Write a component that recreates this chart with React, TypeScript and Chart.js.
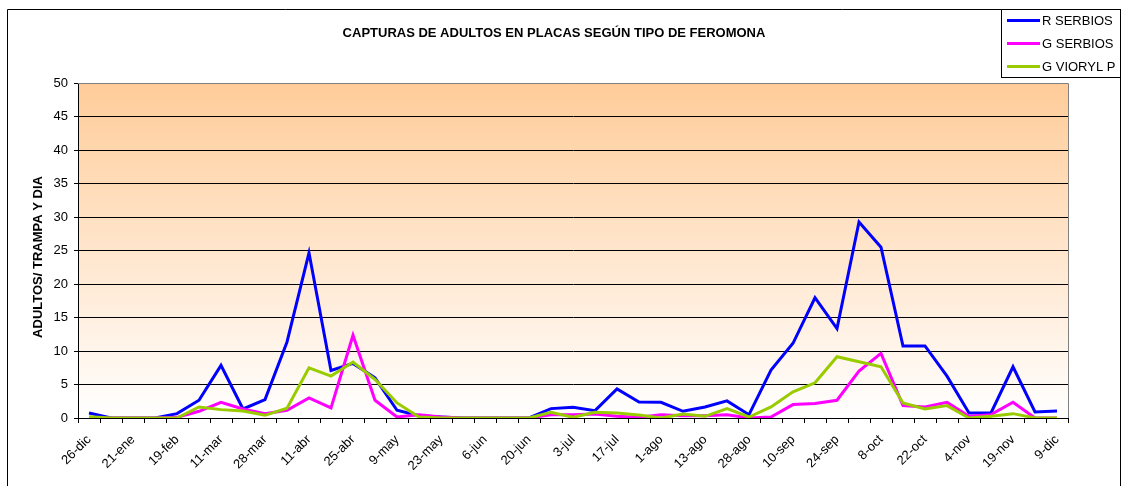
import React, { useEffect, useRef } from 'react';
import { Chart, registerables } from 'chart.js';

Chart.register(...registerables);

const FONT = '"Liberation Sans", Arial, sans-serif';

const chartTitle = 'CAPTURAS DE ADULTOS EN PLACAS SEGÚN TIPO DE FEROMONA';
const yAxisTitle = 'ADULTOS/ TRAMPA Y DIA';

// Date labels shown on every other category
const dateLabels = [
  '26-dic', '21-ene', '19-feb', '11-mar', '28-mar', '11-abr', '25-abr', '9-may',
  '23-may', '6-jun', '20-jun', '3-jul', '17-jul', '1-ago', '13-ago', '28-ago',
  '10-sep', '24-sep', '8-oct', '22-oct', '4-nov', '19-nov', '9-dic',
];

const rSerbios = [
  0.75, 0, 0, 0, 0.65, 2.65, 7.85, 1.35, 2.75, 11.35, 24.65, 7.1, 8.15, 6.0, 1.15,
  0.35, 0.15, 0, 0, 0, 0, 1.4, 1.6, 1.1, 4.35, 2.4, 2.35, 1.0, 1.65, 2.55,
  0.5, 7.15, 11.15, 17.95, 13.35, 29.25, 25.5, 10.75, 10.75, 6.25, 0.75, 0.75, 7.65, 0.9, 1.05,
];

const gSerbios = [
  0, 0, 0, 0, 0.1, 1.0, 2.35, 1.35, 0.65, 1.15, 3.0, 1.5, 12.35, 2.65, 0.15,
  0.5, 0.15, 0, 0, 0, 0, 0.5, 0.5, 0.6, 0.25, 0.1, 0.5, 0.35, 0.35, 0.5,
  0, 0.15, 2.0, 2.15, 2.65, 7.0, 9.65, 1.85, 1.65, 2.35, 0.25, 0.5, 2.35, 0, 0,
];

const gVioryl = [
  0.2, 0, 0, 0, 0, 1.65, 1.25, 1.05, 0.4, 1.45, 7.5, 6.25, 8.35, 5.75, 2.25,
  0.15, 0, 0, 0, 0, 0, 0.85, 0.1, 0.85, 0.75, 0.45, 0, 0.6, 0.25, 1.4,
  0.15, 1.65, 3.9, 5.25, 9.15, 8.4, 7.65, 2.25, 1.35, 1.85, 0, 0.25, 0.65, 0, 0,
];

const seriesNames = ['R SERBIOS', 'G SERBIOS', 'G VIORYL P'];
const seriesColors = ['#0000FF', '#FF00FF', '#99CC00'];
const seriesValues = [rSerbios, gSerbios, gVioryl];

const yMin = 0;
const yMax = 50;
const yStep = 5;

const categories = Array.from({ length: rSerbios.length }, (_, i) =>
  i % 2 === 0 ? dateLabels[i / 2] ?? '' : ''
);

const decorPlugin = {
  id: 'decor',
  beforeDraw(chart: any) {
    const { ctx, chartArea: a } = chart;
    ctx.save();
    ctx.fillStyle = '#ffffff';
    ctx.fillRect(0, 0, chart.width, chart.height);
    const g = ctx.createLinearGradient(0, a.top, 0, a.bottom);
    g.addColorStop(0, '#FFCC99');
    g.addColorStop(1, '#FFFFFF');
    ctx.fillStyle = g;
    ctx.fillRect(a.left, a.top, a.right - a.left, a.bottom - a.top);
    ctx.restore();
  },
  afterDraw(chart: any) {
    const { ctx, chartArea: a } = chart;
    ctx.save();
    // plot border (top & right) gray
    ctx.strokeStyle = '#808080';
    ctx.lineWidth = 1;
    ctx.beginPath();
    ctx.moveTo(a.left, Math.round(a.top) + 0.5);
    ctx.lineTo(Math.round(a.right) + 0.5, Math.round(a.top) + 0.5);
    ctx.lineTo(Math.round(a.right) + 0.5, a.bottom);
    ctx.stroke();

    // outer frame
    ctx.strokeStyle = '#000000';
    ctx.beginPath();
    ctx.rect(7.5, 9.5, 1113, 600);
    ctx.stroke();

    // title
    ctx.fillStyle = '#000000';
    ctx.font = `bold 13px ${FONT}`;
    ctx.textAlign = 'center';
    ctx.textBaseline = 'middle';
    ctx.fillText(chartTitle, 554, 33);

    // y axis title
    ctx.save();
    ctx.translate(38, 257);
    ctx.rotate(-Math.PI / 2);
    ctx.font = `bold 13px ${FONT}`;
    ctx.fillText(yAxisTitle, 0, 0);
    ctx.restore();

    // legend
    const lx = 1001.5, ly = 9.5, lw = 119, lh = 68;
    ctx.fillStyle = '#ffffff';
    ctx.fillRect(lx, ly, lw, lh);
    ctx.strokeStyle = '#000000';
    ctx.lineWidth = 1;
    ctx.strokeRect(lx, ly, lw, lh);
    ctx.font = `13px ${FONT}`;
    ctx.textAlign = 'left';
    ctx.textBaseline = 'middle';
    chart.data.datasets.forEach((ds: any, i: number) => {
      const y = 20.5 + i * 23;
      ctx.strokeStyle = ds.borderColor;
      ctx.lineWidth = 3;
      ctx.beginPath();
      ctx.moveTo(1007, y);
      ctx.lineTo(1040, y);
      ctx.stroke();
      ctx.fillStyle = '#000000';
      ctx.fillText(ds.label, 1042, y + 0.5);
    });
    ctx.restore();
  },
};

export default function App() {
  const ref = useRef<HTMLCanvasElement | null>(null);

  useEffect(() => {
    if (!ref.current) return;
    const chart = new Chart(ref.current, {
      type: 'line',
      data: {
        labels: categories,
        datasets: seriesValues.map((vals, i) => ({
          label: seriesNames[i],
          data: vals,
          borderColor: seriesColors[i],
          backgroundColor: seriesColors[i],
          borderWidth: 3,
          pointRadius: 0,
          tension: 0,
          fill: false,
          order: seriesValues.length - 1 - i,
        })),
      },
      options: {
        animation: false,
        responsive: false,
        maintainAspectRatio: false,
        layout: { padding: { top: 83, right: 55, bottom: 0, left: 0 } },
        plugins: {
          legend: { display: false },
          title: { display: false },
          tooltip: { enabled: false },
        },
        scales: {
          x: {
            type: 'category',
            offset: true,
            grid: {
              display: true,
              offset: true,
              drawOnChartArea: false,
              drawTicks: true,
              tickLength: 5,
              color: '#000000',
            },
            border: { display: true, color: '#000000', width: 1 },
            ticks: {
              autoSkip: false,
              minRotation: 45,
              maxRotation: 45,
              padding: 9,
              color: '#000000',
              font: { family: FONT, size: 13 },
              callback: (_v: any, i: number) => categories[i],
            },
            afterFit: (scale: any) => {
              scale.height = 68;
            },
          },
          y: {
            min: yMin,
            max: yMax,
            ticks: {
              stepSize: yStep,
              padding: 6,
              color: '#000000',
              font: { family: FONT, size: 13 },
            },
            grid: {
              color: (c: any) => (c.tick && c.tick.value === yMax ? '#808080' : '#000000'),
              tickColor: '#000000',
              tickLength: 4,
              lineWidth: 1,
            },
            border: { display: true, color: '#000000', width: 1 },
            afterFit: (scale: any) => {
              scale.width = 78;
            },
          },
        },
      },
      plugins: [decorPlugin],
    });
    return () => chart.destroy();
  }, []);

  return (
    <div style={{ position: 'fixed', left: 0, top: 0, width: 1123, height: 486 }}>
      <canvas ref={ref} width={1123} height={486} style={{ display: 'block' }} />
    </div>
  );
}
